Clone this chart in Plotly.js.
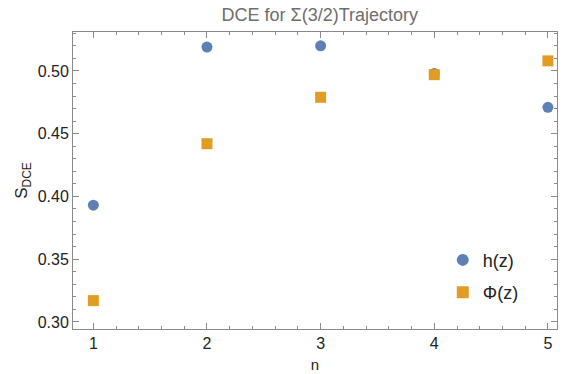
<!DOCTYPE html>
<html><head><meta charset="utf-8">
<script src="https://cdn.plot.ly/plotly-3.0.1.min.js"></script>
<style>html,body{margin:0;padding:0;background:#fff;}#chart{width:566px;height:374px;}</style>
</head><body><div id="chart"></div>
<script>
const nValues = [1, 2, 3, 4, 5];
const hValues = [0.393, 0.519, 0.520, 0.498, 0.471];
const phiValues = [0.317, 0.442, 0.479, 0.497, 0.508];
const seriesNames = ["h(z)", "Φ(z)"];
const xTicks = [1, 2, 3, 4, 5];
const yTicks = [0.30, 0.35, 0.40, 0.45, 0.50];
const yTickLabels = ["0.30", "0.35", "0.40", "0.45", "0.50"];

const FONT = 'Liberation Sans, Arial, sans-serif';
const axisCommon = {
  showgrid: false, zeroline: false, showline: true, linecolor: '#8a8a8a', linewidth: 1,
  mirror: 'allticks', ticks: 'inside', ticklen: 6, tickcolor: '#8a8a8a', tickwidth: 1,
  tickfont: {family: FONT, size: 16, color: '#222'}
};
const traces = [
  {x: nValues, y: hValues, name: seriesNames[0], legendgroup: 'g1', type: 'scatter', mode: 'markers',
   marker: {symbol: 'circle', size: 11, color: '#5E81B5'}},
  {x: nValues, y: phiValues, name: seriesNames[1], legendgroup: 'g2', type: 'scatter', mode: 'markers',
   marker: {symbol: 'square', size: 11, color: '#E19C24'}}
];
const layout = {
  width: 566, height: 374,
  margin: {l: 73, r: 9, t: 32, b: 45},
  paper_bgcolor: '#fff', plot_bgcolor: '#fff',
  title: {text: 'DCE for Σ(3/2)Trajectory', x: 0.565, xanchor: 'center', y: 0.96, yanchor: 'middle',
    font: {family: FONT, size: 18, color: '#6e6e6e'}},
  xaxis: Object.assign({}, axisCommon, {
    range: [0.821, 5.08], tickvals: xTicks, ticktext: xTicks.map(String),
    minor: {dtick: 0.2, tick0: 0, ticks: 'inside', ticklen: 3, tickcolor: '#8a8a8a'},
    title: {text: 'n', standoff: 8, font: {family: FONT, size: 15, color: '#222'}}
  }),
  yaxis: Object.assign({}, axisCommon, {
    range: [0.2944, 0.531], tickvals: yTicks, ticktext: yTickLabels,
    minor: {dtick: 0.01, tick0: 0, ticks: 'inside', ticklen: 3, tickcolor: '#8a8a8a'},
    title: {text: 'S<sub>DCE</sub>', standoff: 5, font: {family: FONT, size: 17, color: '#222'}}
  }),
  showlegend: true,
  legend: {x: 0.764, y: 0.294, xanchor: 'left', yanchor: 'top', bgcolor: 'rgba(0,0,0,0)',
    font: {family: FONT, size: 18, color: '#222'},
    itemsizing: 'constant', tracegroupgap: 6}
};
Plotly.newPlot('chart', traces, layout, {displayModeBar: false, staticPlot: true});
</script></body></html>
